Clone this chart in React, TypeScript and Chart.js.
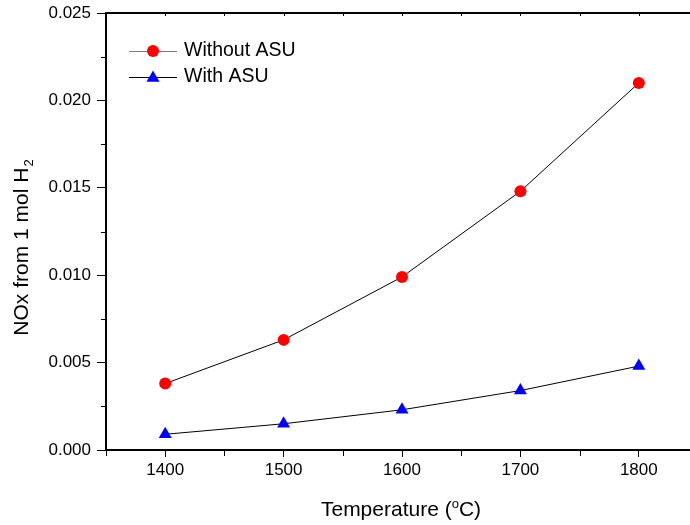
import React, { useEffect, useRef } from "react";
import { Chart, registerables } from "chart.js";

Chart.register(...registerables);

const temperatures = [1400, 1500, 1600, 1700, 1800];
const withoutASU = [0.0038, 0.0063, 0.0099, 0.0148, 0.0210];
const withASU = [0.0009, 0.0015, 0.0023, 0.0034, 0.0048];
const xMajorTicks = [1400, 1500, 1600, 1700, 1800];
const xMinorTicks = [1350, 1450, 1550, 1650, 1750];
const yMajorTicks = [0, 0.005, 0.01, 0.015, 0.02, 0.025];
const yMinorTicks = [0.0025, 0.0075, 0.0125, 0.0175, 0.0225];
const seriesLabels = ["Without ASU", "With ASU"];

const FONT = "Arial, 'Liberation Sans', sans-serif";

const decorPlugin = {
  id: "decor",
  afterDraw(chart: any) {
    const ctx = chart.ctx as CanvasRenderingContext2D;
    const area = chart.chartArea;
    const xs = chart.scales.x;
    const ys = chart.scales.y;
    ctx.save();
    ctx.strokeStyle = "#000";
    // top border
    ctx.lineWidth = 2;
    ctx.beginPath();
    ctx.moveTo(area.left - 1, area.top);
    ctx.lineTo(area.right, area.top);
    ctx.stroke();
    ctx.lineWidth = 1;
    // minor ticks left
    yMinorTicks.forEach((v) => {
      const y = Math.round(ys.getPixelForValue(v)) + 0.5;
      ctx.beginPath();
      ctx.moveTo(area.left - 5, y);
      ctx.lineTo(area.left, y);
      ctx.stroke();
    });
    // minor ticks bottom
    xMinorTicks.forEach((v) => {
      const x = Math.round(xs.getPixelForValue(v)) + 0.5;
      ctx.beginPath();
      ctx.moveTo(x, area.bottom);
      ctx.lineTo(x, area.bottom + 6);
      ctx.stroke();
    });
    // top ticks inward
    [...xMajorTicks, ...xMinorTicks].forEach((v) => {
      const x = Math.round(xs.getPixelForValue(v)) + 0.5;
      ctx.beginPath();
      ctx.moveTo(x, area.top);
      ctx.lineTo(x, area.top + 3);
      ctx.stroke();
    });

    // legend
    const rows = [
      { y: 51, label: seriesLabels[0], line: "#7a7a7a", color: "#ff0000", style: "circle", r: 6 },
      { y: 77, label: seriesLabels[1], line: "#000000", color: "#0000ff", style: "triangle", r: 7.5 },
    ];
    rows.forEach((row) => {
      ctx.strokeStyle = row.line;
      ctx.lineWidth = 1.2;
      ctx.beginPath();
      ctx.moveTo(129, row.y + 0.5);
      ctx.lineTo(177, row.y + 0.5);
      ctx.stroke();
      ctx.fillStyle = row.color;
      ctx.beginPath();
      if (row.style === "circle") {
        ctx.arc(153, row.y, row.r, 0, Math.PI * 2);
      } else {
        const r = row.r;
        for (let i = 0; i < 3; i++) {
          const a = (i * 2 * Math.PI) / 3;
          const px = 153 + Math.sin(a) * r;
          const py = row.y + 1 - Math.cos(a) * r;
          if (i === 0) ctx.moveTo(px, py);
          else ctx.lineTo(px, py);
        }
        ctx.closePath();
      }
      ctx.fill();
      ctx.fillStyle = "#000";
      ctx.font = `19.5px ${FONT}`;
      ctx.textAlign = "left";
      ctx.textBaseline = "middle";
      ctx.fillText(row.label, 184, row.y);
    });

    // x title: Temperature (°C) with superscript o
    ctx.fillStyle = "#000";
    ctx.textBaseline = "alphabetic";
    const big = `21px ${FONT}`;
    const small = `13px ${FONT}`;
    const p1 = "Temperature (";
    const p2 = "o";
    const p3 = "C)";
    ctx.font = big;
    const w1 = ctx.measureText(p1).width;
    const w3 = ctx.measureText(p3).width;
    ctx.font = small;
    const w2 = ctx.measureText(p2).width;
    const total = w1 + w2 + w3;
    const cx = 401;
    const by = 516;
    let x0 = cx - total / 2;
    ctx.textAlign = "left";
    ctx.font = big;
    ctx.fillText(p1, x0, by);
    ctx.font = small;
    ctx.fillText(p2, x0 + w1, by - 8);
    ctx.font = big;
    ctx.fillText(p3, x0 + w1 + w2, by);

    // y title: NOx from 1 mol H2 with subscript 2
    ctx.save();
    ctx.translate(28, 248);
    ctx.rotate(-Math.PI / 2);
    const q1 = "NOx from 1 mol H";
    const q2 = "2";
    ctx.font = big;
    const v1 = ctx.measureText(q1).width;
    ctx.font = small;
    const v2 = ctx.measureText(q2).width;
    const t2 = v1 + v2;
    ctx.font = big;
    ctx.fillText(q1, -t2 / 2, 0);
    ctx.font = small;
    ctx.fillText(q2, -t2 / 2 + v1 + 1, 5);
    ctx.restore();

    ctx.restore();
  },
};

export default function App() {
  const ref = useRef<HTMLCanvasElement | null>(null);
  useEffect(() => {
    if (!ref.current) return;
    const chart = new Chart(ref.current, {
      type: "line",
      data: {
        datasets: [
          {
            label: seriesLabels[0],
            data: temperatures.map((t, i) => ({ x: t, y: withoutASU[i] })),
            borderColor: "#000",
            borderWidth: 1,
            pointStyle: "circle",
            pointRadius: 6,
            pointBackgroundColor: "#ff0000",
            pointBorderColor: "#ff0000",
            pointBorderWidth: 0,
            tension: 0,
          },
          {
            label: seriesLabels[1],
            data: temperatures.map((t, i) => ({ x: t, y: withASU[i] })),
            borderColor: "#000",
            borderWidth: 1,
            pointStyle: "triangle",
            pointRadius: 7.5,
            pointBackgroundColor: "#0000ff",
            pointBorderColor: "#0000ff",
            pointBorderWidth: 0,
            tension: 0,
          },
        ],
      },
      options: {
        responsive: false,
        animation: false,
        devicePixelRatio: 1,
        layout: { padding: { left: 0, right: 22, top: 13, bottom: 0 } },
        plugins: { legend: { display: false }, tooltip: { enabled: false } },
        scales: {
          x: {
            type: "linear",
            min: 1350,
            max: 1850,
            afterBuildTicks: (s: any) => {
              s.ticks = xMajorTicks.map((v) => ({ value: v }));
            },
            afterFit: (s: any) => {
              s.height = 75;
              s.paddingLeft = 0;
              s.paddingRight = 0;
            },
            ticks: {
              color: "#000",
              font: { family: FONT, size: 17 },
              padding: 3,
              maxRotation: 0,
              callback: (v: any) => String(v),
            },
            grid: {
              drawOnChartArea: false,
              drawTicks: true,
              tickLength: 7,
              color: "#000",
              lineWidth: 1,
            },
            border: { display: true, color: "#000", width: 2 },
          },
          y: {
            type: "linear",
            min: 0,
            max: 0.025,
            afterBuildTicks: (s: any) => {
              s.ticks = yMajorTicks.map((v) => ({ value: v }));
            },
            afterFit: (s: any) => {
              s.width = 106;
              s.paddingTop = 0;
              s.paddingBottom = 0;
            },
            ticks: {
              color: "#000",
              font: { family: FONT, size: 17 },
              padding: 6,
              callback: (v: any) => Number(v).toFixed(3),
            },
            grid: {
              drawOnChartArea: false,
              drawTicks: true,
              tickLength: 9,
              color: "#000",
              lineWidth: 1,
            },
            border: { display: true, color: "#000", width: 2 },
          },
        },
      },
      plugins: [decorPlugin],
    } as any);
    return () => chart.destroy();
  }, []);
  return (
    <div
      style={{
        position: "absolute",
        left: 0,
        top: 0,
        width: 690,
        height: 525,
        overflow: "hidden",
        background: "#fff",
      }}
    >
      <canvas ref={ref} width={720} height={525} style={{ display: "block" }} />
    </div>
  );
}
